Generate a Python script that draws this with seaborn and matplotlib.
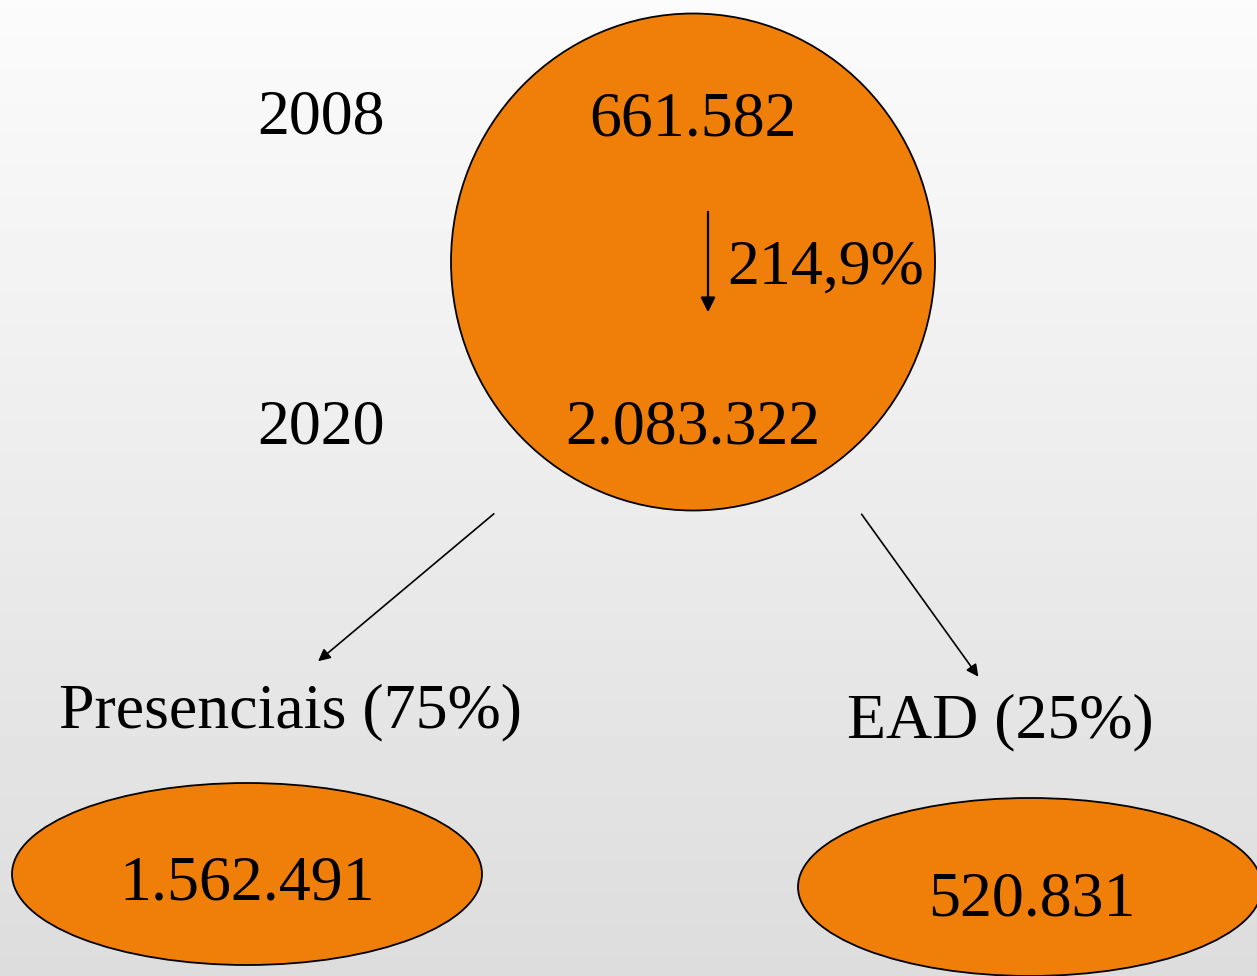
import numpy as np
import matplotlib
matplotlib.use("Agg")
import matplotlib.pyplot as plt
from matplotlib.patches import Ellipse
import seaborn as sns

sns.set_theme(style="white")
plt.rcParams['font.family'] = ['Liberation Serif', 'DejaVu Serif']
plt.rcParams['text.color'] = 'black'

# Data
years = ["2008", "2020"]
totals = ["661.582", "2.083.322"]
growth = "214,9%"
modes = ["Presenciais (75%)", "EAD (25%)"]
mode_values = ["1.562.491", "520.831"]

orange = "#F07F09"
W, H = 1257, 976

fig = plt.figure(figsize=(W / 100, H / 100), dpi=100)
ax = fig.add_axes([0, 0, 1, 1])
ax.set_xlim(0, W)
ax.set_ylim(H, 0)
ax.axis("off")

# background gradient, light top -> grey bottom
grad = np.linspace(0.985, 0.865, 256).reshape(-1, 1)
ax.imshow(grad, extent=[0, W, H, 0], cmap="gray", vmin=0, vmax=1, aspect="auto", zorder=0)

# shapes
ax.add_patch(Ellipse((693, 262), 484, 497, facecolor=orange, edgecolor="black", lw=1.3, zorder=1))
ax.add_patch(Ellipse((247, 874), 470, 182, facecolor=orange, edgecolor="black", lw=1.3, zorder=1))
ax.add_patch(Ellipse((1030, 887), 464, 178, facecolor=orange, edgecolor="black", lw=1.3, zorder=1))

fs = 46
kw = dict(fontsize=fs, ha="center", va="baseline", color="black", zorder=3)

# years and totals
for yr, tot, yb, tb in zip(years, totals, [133, 444], [136, 443]):
    ax.text(321, yb, yr, **kw)
    ax.text(693, tb, tot, **kw)

# growth arrow
ax.annotate("", xy=(708, 315), xytext=(708, 209),
            arrowprops=dict(arrowstyle="-|>", color="black", lw=1.6, mutation_scale=22), zorder=3)
ax.text(826, 284, growth, **kw)

# split arrows
ax.annotate("", xy=(316, 663), xytext=(496, 512),
            arrowprops=dict(arrowstyle="-|>", color="black", lw=1.2, mutation_scale=18), zorder=3)
ax.annotate("", xy=(980, 679), xytext=(860, 512),
            arrowprops=dict(arrowstyle="-|>", color="black", lw=1.2, mutation_scale=18), zorder=3)

# modes
ax.text(290, 727, modes[0], **kw)
ax.text(1000, 737, modes[1], **kw)
ax.text(247, 900, mode_values[0], **kw)
ax.text(1032, 915, mode_values[1], **kw)

fig.savefig("out.png", dpi=100)
